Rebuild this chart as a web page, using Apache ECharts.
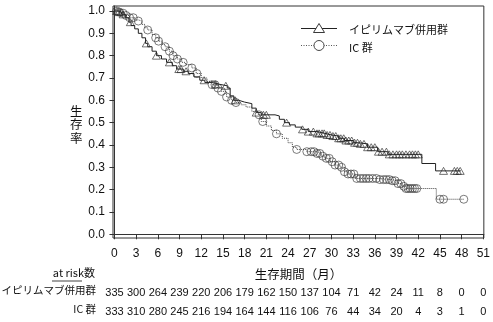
<!DOCTYPE html>
<html>
<head>
<meta charset="utf-8">
<script src="https://cdn.jsdelivr.net/npm/echarts@6/dist/echarts.min.js"></script>
<style>
  html, body { margin: 0; padding: 0; background: #fff; }
  #chart { width: 493px; height: 322px; }
</style>
</head>
<body>
<div id="chart"></div>
<script>
// Axis ticks
const xTicks = [0, 3, 6, 9, 12, 15, 18, 21, 24, 27, 30, 33, 36, 39, 42, 45, 48, 51];
const yTicks = [0, 0.1, 0.2, 0.3, 0.4, 0.5, 0.6, 0.7, 0.8, 0.9, 1.0];

// Numbers at risk at each x tick
const riskIpi = [335, 300, 264, 239, 220, 206, 179, 162, 150, 137, 104, 71, 42, 24, 11, 8, 0, 0];
const riskIC  = [333, 310, 280, 245, 216, 194, 164, 144, 116, 106, 76, 44, 34, 20, 4, 3, 1, 0];

// Kaplan-Meier estimates: event time (months) and survival after it
const ipiTime = [0, 0.5, 1.0, 1.5, 2.0, 2.3, 2.8, 3.3, 3.8, 4.3, 4.6, 5.2, 5.8, 6.5, 7.2, 8.0, 8.6, 9.5, 10.2, 11.0, 11.8, 12.5, 13.5, 14.5, 15.6, 16.0, 16.5, 17.2, 18.0, 19.0, 19.6, 20.3, 22.2, 22.8, 23.5, 24.2, 25.0, 25.9, 26.8, 28.0, 29.1, 30.0, 31.0, 31.8, 33.0, 33.7, 35.0, 36.4, 37.8, 42.5, 44.4, 47.9];
const ipiSurv = [1.0, 0.995, 0.985, 0.97, 0.95, 0.935, 0.92, 0.90, 0.88, 0.855, 0.84, 0.82, 0.80, 0.785, 0.77, 0.755, 0.74, 0.73, 0.72, 0.705, 0.69, 0.68, 0.672, 0.665, 0.655, 0.62, 0.60, 0.592, 0.585, 0.565, 0.545, 0.535, 0.53, 0.515, 0.50, 0.49, 0.48, 0.47, 0.46, 0.452, 0.445, 0.44, 0.43, 0.42, 0.41, 0.405, 0.39, 0.37, 0.358, 0.317, 0.284, 0.284];

const icTime = [0, 0.5, 1.0, 1.5, 2.1, 2.8, 3.3, 3.8, 4.2, 4.6, 5.2, 5.7, 6.1, 6.6, 7.0, 7.6, 8.1, 8.7, 9.3, 9.8, 10.7, 11.3, 12.0, 12.8, 13.5, 14.2, 14.8, 15.5, 16.2, 16.8, 17.5, 18.2, 19.0, 19.9, 20.3, 21.0, 21.7, 22.4, 23.2, 24.0, 24.6, 25.2, 26.6, 28.0, 28.6, 29.1, 29.8, 30.5, 31.2, 31.8, 32.3, 33.3, 36.4, 38.3, 39.2, 39.8, 40.3, 44.5, 48.3];
const icSurv = [1.0, 0.995, 0.99, 0.98, 0.97, 0.96, 0.955, 0.94, 0.925, 0.915, 0.895, 0.88, 0.865, 0.85, 0.84, 0.82, 0.80, 0.785, 0.77, 0.76, 0.745, 0.72, 0.70, 0.685, 0.67, 0.655, 0.64, 0.615, 0.60, 0.59, 0.58, 0.57, 0.55, 0.535, 0.505, 0.485, 0.465, 0.45, 0.43, 0.41, 0.39, 0.38, 0.37, 0.362, 0.35, 0.34, 0.325, 0.31, 0.30, 0.28, 0.27, 0.25, 0.245, 0.24, 0.227, 0.215, 0.205, 0.157, 0.157];

// Censoring times (months)
const ipiCensor = [0.3, 0.6, 0.9, 1.2, 2.2, 4.4, 5.8, 7.6, 8.9, 9.2, 9.9, 12.4, 14.0, 15.4, 16.7, 19.6, 20.6, 21.0, 23.8, 26.0, 26.8, 27.5, 28.0, 28.3, 28.7, 29.0, 29.4, 29.8, 30.2, 30.6, 31.0, 31.3, 31.7, 32.0, 32.4, 32.8, 33.2, 33.6, 34.0, 34.5, 35.0, 35.5, 36.0, 36.5, 37.0, 37.6, 38.0, 38.5, 39.0, 39.4, 39.8, 40.3, 40.8, 41.2, 41.6, 42.0, 45.5, 47.0, 47.4, 47.8];
const icCensor = [0.3, 0.7, 1.2, 1.6, 2.1, 2.6, 3.3, 4.6, 5.7, 6.1, 7.0, 7.6, 8.1, 8.7, 9.5, 10.7, 11.4, 13.5, 13.9, 14.3, 14.8, 15.5, 16.2, 16.8, 20.0, 20.5, 22.4, 25.2, 26.6, 27.2, 27.6, 28.0, 28.4, 28.8, 29.3, 29.7, 30.1, 30.5, 31.0, 31.4, 31.8, 32.3, 32.7, 33.1, 33.5, 34.0, 34.4, 34.8, 35.2, 35.7, 36.2, 36.7, 37.2, 37.6, 38.0, 38.4, 38.8, 39.2, 39.6, 40.0, 40.3, 40.6, 40.9, 41.2, 41.5, 41.8, 45.0, 45.5, 48.3];

const NAME_IPI = 'イピリムマブ併用群';
const NAME_IC = 'IC 群';
const LATIN = '"Liberation Sans", "Noto Sans CJK JP", sans-serif';
const CJK = '"Noto Sans CJK JP", "Liberation Sans", sans-serif';

function zip(xs, ys) { return xs.map((x, i) => [x, ys[i]]); }
// Survival at time t on a step curve (last estimate at or before t)
function survAt(times, surv, t) {
  let s = surv[0];
  for (let i = 0; i < times.length; i++) { if (times[i] <= t) s = surv[i]; }
  return s;
}
function riskLabel(row) {
  return v => { const i = xTicks.indexOf(Math.round(v)); return i >= 0 ? String(row[i]) : ''; };
}

const X_MIN = -0.2, X_MAX = 51.07, Y_MIN = -0.0166, Y_MAX = 1.0224;

const riskAxis = (row, offset) => ({
  type: 'value', gridIndex: 0, position: 'bottom', offset: offset,
  min: X_MIN, max: X_MAX,
  axisLine: { show: false }, axisTick: { show: false }, splitLine: { show: false },
  axisLabel: { customValues: xTicks, formatter: riskLabel(row), margin: 8,
    fontFamily: LATIN, fontSize: 11, color: '#111' }
});

// Legend keys: thin line with an open marker in the middle
const KEY_X1 = 301, KEY_X2 = 337, KEY_Y1 = 28.5, KEY_Y2 = 45.5;
const keyMid = (KEY_X1 + KEY_X2) / 2;
const legendKeys = [
  { type: 'line', shape: { x1: KEY_X1, y1: KEY_Y1, x2: KEY_X2, y2: KEY_Y1 },
    style: { stroke: '#222', lineWidth: 1 } },
  { type: 'polygon', shape: { points: [[keyMid, KEY_Y1 - 5], [keyMid - 5.5, KEY_Y1 + 4], [keyMid + 5.5, KEY_Y1 + 4]] },
    style: { fill: '#fff', stroke: '#222', lineWidth: 0.9 } },
  { type: 'line', shape: { x1: KEY_X1, y1: KEY_Y2, x2: KEY_X2, y2: KEY_Y2 },
    style: { stroke: '#555', lineWidth: 1, lineDash: [1, 1.5] } },
  { type: 'circle', shape: { cx: keyMid, cy: KEY_Y2, r: 5 },
    style: { fill: '#fff', stroke: '#333', lineWidth: 0.9 } }
];

const chart = echarts.init(document.getElementById('chart'), null, { renderer: 'canvas' });
chart.setOption({
  animation: false,
  backgroundColor: '#fff',
  grid: { left: 113, top: 6, width: 373.5, height: 232, show: true,
    borderColor: '#333', borderWidth: 1, backgroundColor: 'transparent' },
  legend: {
    data: [NAME_IPI, NAME_IC], orient: 'vertical', left: 300, top: 19,
    itemWidth: 38, itemHeight: 10, itemGap: 7,
    itemStyle: { opacity: 0 }, lineStyle: { opacity: 0 },
    textStyle: { fontFamily: CJK, fontSize: 11, color: '#111' }
  },
  xAxis: [
    {
      type: 'value', min: X_MIN, max: X_MAX,
      name: '生存期間（月）', nameLocation: 'middle', nameGap: 30,
      nameTextStyle: { fontFamily: CJK, fontSize: 12.5, color: '#111' },
      axisLine: { show: true, lineStyle: { color: '#333', width: 1 } },
      axisTick: { show: true, customValues: xTicks, length: 5, inside: false, lineStyle: { color: '#333' } },
      axisLabel: { customValues: xTicks, margin: 10, fontFamily: LATIN, fontSize: 12, color: '#111' },
      splitLine: { show: false }
    },
    riskAxis(riskIpi, 41),
    riskAxis(riskIC, 60)
  ],
  yAxis: {
    type: 'value', min: Y_MIN, max: Y_MAX,
    axisLine: { show: true, lineStyle: { color: '#333', width: 1 } },
    axisTick: { show: true, customValues: yTicks, length: 5, lineStyle: { color: '#333' } },
    axisLabel: { customValues: yTicks, formatter: v => v.toFixed(1), margin: 8,
      fontFamily: LATIN, fontSize: 12, color: '#111' },
    splitLine: { show: false }
  },
  graphic: legendKeys.concat([
    { type: 'text', left: 70, top: 104,
      style: { text: '生\n存\n率', font: '12.5px ' + CJK, fill: '#111', lineHeight: 13.5 } },
    { type: 'text', right: 398, top: 267,
      style: { text: 'at risk数', font: '11px ' + CJK, fill: '#111', textAlign: 'right' } },
    { type: 'line', shape: { x1: 52, y1: 281, x2: 82, y2: 281 }, style: { stroke: '#111', lineWidth: 0.8 } },
    { type: 'text', right: 397, top: 285,
      style: { text: NAME_IPI, font: '10.5px ' + CJK, fill: '#111', textAlign: 'right' } },
    { type: 'text', right: 397, top: 304,
      style: { text: NAME_IC, font: '10.5px ' + CJK, fill: '#111', textAlign: 'right' } }
  ]),
  series: [
    {
      name: NAME_IPI, type: 'line', step: 'end', data: zip(ipiTime, ipiSurv),
      symbol: 'none',
      lineStyle: { color: '#222', width: 1 }, itemStyle: { color: '#222' }, z: 3
    },
    {
      name: NAME_IC, type: 'line', step: 'end', data: zip(icTime, icSurv),
      symbol: 'none',
      lineStyle: { color: '#444', width: 1, type: 'dotted' }, itemStyle: { color: '#444' }, z: 3
    },
    {
      name: 'ipiCensor', type: 'scatter', symbol: 'triangle', symbolSize: [8, 7],
      data: ipiCensor.map(t => [t, survAt(ipiTime, ipiSurv, t)]),
      itemStyle: { color: 'rgba(0,0,0,0)', borderColor: '#222', borderWidth: 0.8 }, z: 4
    },
    {
      name: 'icCensor', type: 'scatter', symbol: 'circle', symbolSize: 8,
      data: icCensor.map(t => [t, survAt(icTime, icSurv, t)]),
      itemStyle: { color: 'rgba(0,0,0,0)', borderColor: '#333', borderWidth: 0.8 }, z: 4
    }
  ]
});
</script>
</body>
</html>
